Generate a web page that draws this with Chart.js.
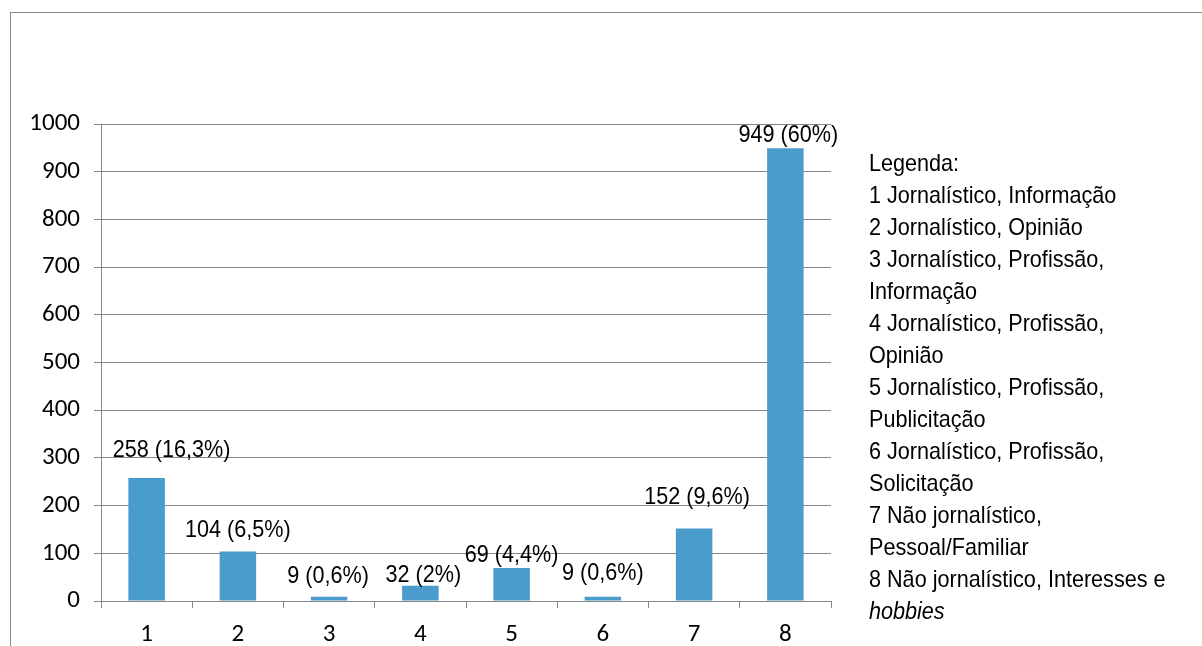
<!DOCTYPE html>
<html lang="pt">
<head>
<meta charset="utf-8">
<title>Tipos de conteúdo</title>
<script src="https://cdn.jsdelivr.net/npm/chart.js@4.4.1/dist/chart.umd.min.js"></script>
<style>
  html, body { margin: 0; padding: 0; background: #ffffff; }
  #wrap { position: relative; width: 1202px; height: 646px; overflow: hidden; }
</style>
</head>
<body>
<div id="wrap"><canvas id="chart" width="1202" height="646"></canvas></div>
<script>
// Categories on the x axis and the count of posts in each one
const categories = ['1', '2', '3', '4', '5', '6', '7', '8'];
const counts = [258, 104, 9, 32, 69, 9, 152, 949];
// Share of the total, in percent
const shares = [16.3, 6.5, 0.6, 2, 4.4, 0.6, 9.6, 60];
// Value axis
const yMax = 1000;
const yStep = 100;

// Legend text, one entry per drawn line (wrapped as printed)
const legendTitle = 'Legenda:';
const legendLines = [
  '1 Jornalístico, Informação',
  '2 Jornalístico, Opinião',
  '3 Jornalístico, Profissão,',
  'Informação',
  '4 Jornalístico, Profissão,',
  'Opinião',
  '5 Jornalístico, Profissão,',
  'Publicitação',
  '6 Jornalístico, Profissão,',
  'Solicitação',
  '7 Não jornalístico,',
  'Pessoal/Familiar',
  '8 Não jornalístico, Interesses e',
  'hobbies'
];
const italicLines = ['hobbies'];

// Hand placement of each value label: [shift right, gap above bar top] in px
const labelNudge = [[25, 21], [0, 14], [-1, 14], [3, 4], [0, 6], [0, 17], [3, 24], [3, 6]];

const BAR_COLOR = '#4A9CCC';
const GRID_COLOR = '#868686';
const TEXT_COLOR = '#000000';
const AXIS_FONT = 'Carlito, Lato, sans-serif';
const AXIS_SIZE = 25;
const TEXT_FONT = '"Liberation Sans", Arial, sans-serif';
const TEXT_SIZE = 24;
const NARROW = 0.9; // horizontal squeeze giving a narrow face

function fmtShare(v) {
  return String(v).replace('.', ',') + '%';
}

function narrowText(ctx, text, x, y, align) {
  ctx.save();
  ctx.translate(x, y);
  ctx.scale(NARROW, 1);
  ctx.textAlign = align;
  ctx.fillText(text, 0, 0);
  ctx.restore();
}

// White page and the grey outer frame
const framePlugin = {
  id: 'frame',
  beforeDraw(chart) {
    const ctx = chart.ctx;
    ctx.save();
    ctx.fillStyle = '#ffffff';
    ctx.fillRect(0, 0, chart.width, chart.height);
    ctx.strokeStyle = '#8a8a8a';
    ctx.lineWidth = 1;
    ctx.strokeRect(10.5, 12.5, chart.width + 20, chart.height + 20);
    ctx.restore();
  }
};

// "count (share)" above each bar
const valueLabelPlugin = {
  id: 'valueLabels',
  afterDatasetsDraw(chart) {
    const ctx = chart.ctx;
    const meta = chart.getDatasetMeta(0);
    ctx.save();
    ctx.font = TEXT_SIZE + 'px ' + TEXT_FONT;
    ctx.fillStyle = TEXT_COLOR;
    ctx.textBaseline = 'alphabetic';
    meta.data.forEach((bar, i) => {
      const [dx, gap] = labelNudge[i];
      const text = counts[i] + ' (' + fmtShare(shares[i]) + ')';
      narrowText(ctx, text, bar.x + dx, bar.y - gap, 'center');
    });
    ctx.restore();
  }
};

// Text legend at the right of the plot
const textLegendPlugin = {
  id: 'textLegend',
  afterDraw(chart) {
    const ctx = chart.ctx;
    const x = 869;
    const y0 = 171;
    const lh = 32;
    ctx.save();
    ctx.fillStyle = TEXT_COLOR;
    ctx.textBaseline = 'alphabetic';
    ctx.font = TEXT_SIZE + 'px ' + TEXT_FONT;
    narrowText(ctx, legendTitle, x, y0, 'left');
    legendLines.forEach((line, i) => {
      ctx.font = (italicLines.includes(line) ? 'italic ' : '') + TEXT_SIZE + 'px ' + TEXT_FONT;
      narrowText(ctx, line, x, y0 + (i + 1) * lh, 'left');
    });
    ctx.restore();
  }
};

new Chart(document.getElementById('chart'), {
  type: 'bar',
  data: {
    labels: categories,
    datasets: [{
      data: counts,
      backgroundColor: BAR_COLOR,
      borderWidth: 0,
      barPercentage: 0.4,
      categoryPercentage: 1.0
    }]
  },
  options: {
    responsive: false,
    animation: false,
    devicePixelRatio: 1,
    layout: { padding: { top: 124, right: 371, left: 0, bottom: 0 } },
    plugins: {
      legend: { display: false },
      tooltip: { enabled: false },
      title: { display: false }
    },
    scales: {
      x: {
        grid: {
          offset: true,
          drawOnChartArea: false,
          drawTicks: true,
          tickLength: 7,
          color: GRID_COLOR,
          lineWidth: 1
        },
        border: { display: true, color: GRID_COLOR, width: 1 },
        ticks: {
          color: TEXT_COLOR,
          font: { family: AXIS_FONT, size: AXIS_SIZE },
          padding: 12,
          maxRotation: 0
        },
        afterFit(scale) { scale.height = 45; }
      },
      y: {
        min: 0,
        max: yMax,
        grid: {
          color: GRID_COLOR,
          lineWidth: 1,
          drawTicks: true,
          tickLength: 7
        },
        border: { display: true, color: GRID_COLOR, width: 1 },
        ticks: {
          stepSize: yStep,
          color: TEXT_COLOR,
          font: { family: AXIS_FONT, size: AXIS_SIZE },
          padding: 14,
          callback: (v) => String(v)
        },
        afterFit(scale) { scale.width = 101; }
      }
    }
  },
  plugins: [framePlugin, valueLabelPlugin, textLegendPlugin]
});
</script>
</body>
</html>
